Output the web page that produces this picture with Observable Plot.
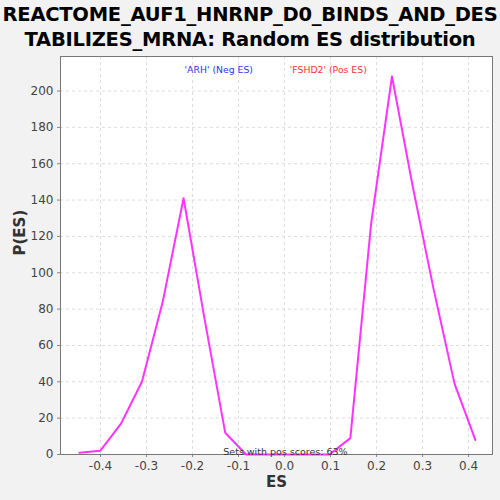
<!DOCTYPE html>
<html><head><meta charset="utf-8">
<script src="https://cdn.jsdelivr.net/npm/d3@7"></script>
<script src="https://cdn.jsdelivr.net/npm/@observablehq/plot@0.6"></script>
<style>
html,body{margin:0;padding:0;background:#f2f2f2;}
#title{width:500px;height:50px;font-family:"DejaVu Sans",sans-serif;font-weight:bold;font-size:19.5px;line-height:25px;text-align:center;color:#000;padding-top:2px;box-sizing:border-box;white-space:nowrap;letter-spacing:-0.25px}
</style></head>
<body>
<div id="title">REACTOME_AUF1_HNRNP_D0_BINDS_AND_DES<br>TABILIZES_MRNA: Random ES distribution</div>
<div id="chart"></div>
<script>
const es = [-0.446,-0.4007,-0.3554,-0.31,-0.2648,-0.2195,-0.1742,-0.129,-0.0836,-0.0383,0.007,0.0523,0.0976,0.143,0.1882,0.2335,0.279,0.324,0.3694,0.4147];
const pes = [1,2,17,40,84,141,75,12,0,0,0,0,0,9,127,208,147,91,39,8];
const xTicks = [-0.4,-0.3,-0.2,-0.1,0.0,0.1,0.2,0.3,0.4];
const yTicks = [0,20,40,60,80,100,120,140,160,180,200];
const data = es.map((x,i)=>({x, y: pes[i]}));

const plot = Plot.plot({
  width: 500, height: 450,
  marginTop: 6, marginBottom: 46, marginLeft: 60, marginRight: 8,
  style: {background:"#f2f2f2", fontFamily:"DejaVu Sans, sans-serif", fontSize:"12px", color:"#444"},
  x: {domain:[-0.487,0.452], ticks: xTicks, tickFormat: d=>d.toFixed(1), label: null, tickSize: 3},
  y: {domain:[0,219], ticks: yTicks, label: null, tickSize: 3},
  marks: [
    Plot.frame({fill:"white"}),
    Plot.gridX(xTicks, {stroke:"#ddd", strokeOpacity:1, strokeDasharray:"3,3"}),
    Plot.gridY(yTicks, {stroke:"#ddd", strokeOpacity:1, strokeDasharray:"3,3"}),
    Plot.axisX(xTicks, {tickFormat: d=>d.toFixed(1), tickSize:3, fontSize:12, tickPadding:4, stroke:"#888", fill:"#444"}),
    Plot.axisY(yTicks, {tickSize:3, fontSize:12, tickPadding:4, stroke:"#888", fill:"#444"}),
    Plot.frame({stroke:"#777"}),
    Plot.line(data, {x:"x", y:"y", stroke:"#ff33ff", strokeWidth:2}),
    Plot.text(["Sets with pos scores: 63%"], {x:0.002, y:0, dy:-3, fontSize:9.5, fill:"#333", textAnchor:"middle"}),
    Plot.text(["'ARH' (Neg ES)"], {x:-0.143, frameAnchor:"top", dy:10, fontSize:9.3, fill:"#3333ff"}),
    Plot.text(["'FSHD2' (Pos ES)"], {x:0.095, frameAnchor:"top", dy:10, fontSize:9.3, fill:"#ff3333"}),
    Plot.text(["ES"], {frameAnchor:"bottom", dy:32, fontSize:15, fontWeight:"bold", fill:"#333"}),
    Plot.text(["P(ES)"], {frameAnchor:"left", dx:-40, rotate:-90, fontSize:15, fontWeight:"bold", fill:"#333"})
  ]
});
document.getElementById("chart").appendChild(plot);
</script>
</body></html>
